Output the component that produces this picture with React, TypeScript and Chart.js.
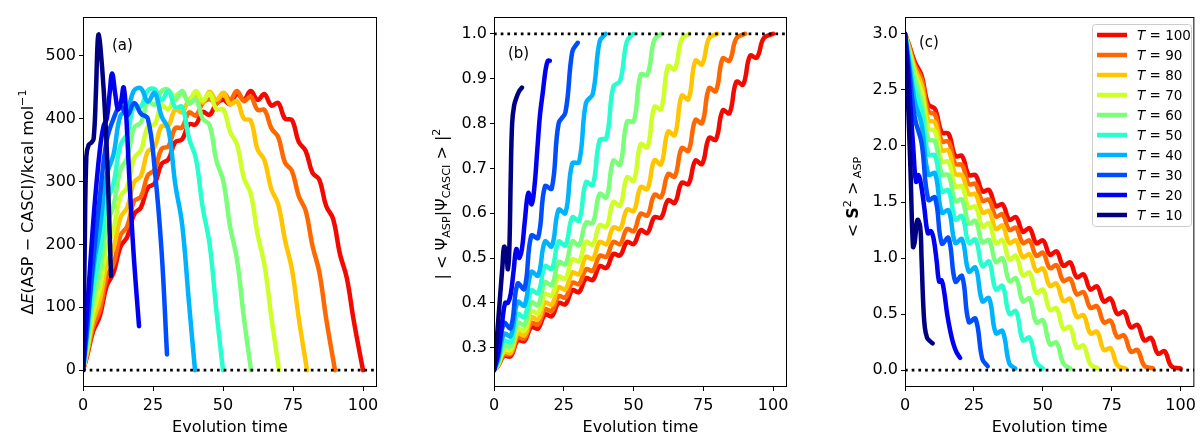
import React, { useEffect, useRef } from "react";
import { Chart, registerables } from "chart.js";

Chart.register(...registerables);

const FONT = "'DejaVu Sans', 'Liberation Sans', sans-serif";

const T_VALUES = [10, 20, 30, 40, 50, 60, 70, 80, 90, 100];
const JET_COLORS = ["#000080", "#0000f3", "#004cff", "#00b3ff", "#29ffce", "#7bff7b", "#ceff29", "#ffc600", "#ff6800", "#f30900"];

const X_TICKS = [0, 25, 50, 75, 100];
const A_Y_TICKS = [0, 100, 200, 300, 400, 500];
const B_Y_TICKS = [0.3, 0.4, 0.5, 0.6, 0.7, 0.8, 0.9, 1.0];
const C_Y_TICKS = [0, 0.5, 1.0, 1.5, 2.0, 2.5, 3.0];

// shared sampling times (wiggle extremes), curve T ends at t = T
const TIME_GRID = [0, 1.5, 3.55, 6.0, 8.45, 10.9, 13.35, 15.8, 18.25, 20.7, 23.15, 25.6, 28.05, 30.5, 32.95, 35.4, 37.85, 40.3, 42.75, 45.2, 47.65, 50.1, 52.55, 55.0, 57.45, 59.9, 62.35, 64.8, 67.25, 69.7, 72.15, 74.6, 77.05, 79.5, 81.95, 84.4, 86.85, 89.3, 91.75, 94.2, 96.65];

// ---------- panel (a): Delta E ----------
const A_T10_TIME = [0, 0.6, 1.2, 2, 3, 3.8, 4.6, 5.2, 5.6, 6.2, 7.4, 8.6, 10];
const A_T10 = [0, 190, 340, 358, 362, 368, 440, 520, 534, 515, 445, 340, 150];
const A_T20_TIME = [0, 2, 4, 6, 7.4, 8.5, 9.5, 10.4, 11.5, 12.5, 13.5, 14.5, 15.3, 16.5, 18, 20];
const A_T20 = [0, 130, 255, 350, 389, 400, 440, 472, 440, 415, 425, 450, 415, 310, 190, 70];
const A_T30 = [0, 70, 170, 275, 365, 400, 420, 405, 425, 408, 400, 320, 190, 25];
const A_T40 = [0, 64, 157, 225, 310, 343, 405, 413, 445, 448, 427, 441, 404, 383, 296, 232, 107, 0];
const A_T50 = [0, 51, 128, 184, 265, 297, 358, 376, 420, 419, 445, 447, 429, 444, 418, 419, 369, 337, 259, 201, 94, 0];
const A_T60 = [0, 43, 108, 157, 230, 262, 318, 338, 386, 394, 427, 422, 444, 446, 430, 444, 424, 431, 400, 390, 333, 301, 228, 176, 84, 0];
const A_T70 = [0, 35, 90, 130, 194, 224, 276, 291, 337, 350, 387, 391, 421, 415, 436, 440, 428, 444, 429, 440, 415, 415, 379, 359, 306, 281, 216, 168, 85, 0];
const A_T80 = [0, 30, 78, 111, 169, 194, 242, 259, 299, 309, 348, 355, 388, 389, 415, 410, 430, 435, 426, 443, 430, 441, 423, 428, 400, 397, 351, 334, 288, 264, 207, 161, 83, 0];
const A_T90 = [0, 26, 68, 95, 148, 169, 214, 229, 269, 276, 310, 319, 352, 356, 385, 386, 410, 405, 425, 431, 424, 441, 430, 444, 428, 435, 414, 414, 385, 371, 330, 317, 277, 254, 198, 156, 82, 0];
const A_T100 = [0, 23, 61, 86, 134, 155, 196, 212, 248, 259, 290, 297, 328, 335, 363, 367, 391, 391, 411, 406, 424, 430, 423, 440, 430, 444, 430, 439, 421, 425, 400, 398, 363, 349, 314, 303, 261, 241, 185, 147, 80, 0];

// ---------- panel (b): overlap ----------
const B_T10_TIME = [0, 1, 2, 3, 3.6, 4.3, 5.0, 5.5, 6.0, 6.5, 7.2, 8, 9, 10];
const B_T10 = [0.25, 0.32, 0.40, 0.48, 0.525, 0.515, 0.475, 0.52, 0.68, 0.80, 0.84, 0.857, 0.872, 0.88];
const B_T20_TIME = [0, 1.5, 3, 4, 5, 6, 7, 8, 9, 10, 11, 12.3, 13.5, 14.5, 15.5, 16.5, 17.5, 18.5, 19.3, 20];
const B_T20 = [0.25, 0.29, 0.36, 0.40, 0.40, 0.42, 0.47, 0.52, 0.50, 0.52, 0.58, 0.645, 0.62, 0.66, 0.74, 0.82, 0.87, 0.92, 0.94, 0.94];
const B_T30 = [0.25, 0.282, 0.355, 0.344, 0.443, 0.431, 0.55, 0.545, 0.66, 0.655, 0.80, 0.825, 0.96, 0.98];
const B_T40 = [0.25, 0.275, 0.331, 0.326, 0.402, 0.394, 0.469, 0.461, 0.537, 0.526, 0.608, 0.60, 0.711, 0.714, 0.846, 0.866, 0.983, 1.0];
const B_T50 = [0.25, 0.27, 0.315, 0.313, 0.375, 0.368, 0.428, 0.422, 0.482, 0.476, 0.537, 0.528, 0.591, 0.583, 0.669, 0.663, 0.763, 0.768, 0.882, 0.895, 0.984, 1.0];
const B_T60 = [0.25, 0.267, 0.303, 0.304, 0.356, 0.351, 0.401, 0.395, 0.446, 0.44, 0.491, 0.486, 0.537, 0.529, 0.579, 0.578, 0.643, 0.635, 0.717, 0.708, 0.804, 0.805, 0.909, 0.909, 0.987, 1.0];
const B_T70 = [0.25, 0.264, 0.295, 0.296, 0.342, 0.338, 0.382, 0.377, 0.42, 0.416, 0.459, 0.454, 0.497, 0.493, 0.536, 0.53, 0.573, 0.57, 0.625, 0.617, 0.68, 0.672, 0.754, 0.747, 0.837, 0.832, 0.928, 0.921, 0.988, 1.0];
const B_T80 = [0.25, 0.262, 0.29, 0.289, 0.332, 0.328, 0.368, 0.363, 0.401, 0.396, 0.435, 0.43, 0.468, 0.464, 0.503, 0.498, 0.536, 0.531, 0.568, 0.565, 0.608, 0.605, 0.658, 0.654, 0.718, 0.709, 0.782, 0.774, 0.862, 0.854, 0.94, 0.932, 0.99, 1.0];
const B_T90 = [0.25, 0.261, 0.285, 0.286, 0.323, 0.321, 0.355, 0.352, 0.386, 0.382, 0.415, 0.412, 0.445, 0.442, 0.475, 0.472, 0.505, 0.503, 0.536, 0.531, 0.565, 0.56, 0.599, 0.595, 0.641, 0.636, 0.687, 0.682, 0.745, 0.739, 0.808, 0.801, 0.879, 0.872, 0.945, 0.94, 0.99, 1.0];
const B_T100 = [0.25, 0.26, 0.282, 0.281, 0.316, 0.315, 0.346, 0.343, 0.374, 0.37, 0.40, 0.397, 0.428, 0.424, 0.455, 0.451, 0.482, 0.478, 0.509, 0.506, 0.536, 0.531, 0.562, 0.556, 0.591, 0.59, 0.629, 0.623, 0.668, 0.665, 0.717, 0.71, 0.768, 0.764, 0.829, 0.823, 0.893, 0.887, 0.951, 0.947, 0.99, 1.0];

// ---------- panel (c): <S^2> ----------
const C_T10_TIME = [0, 1, 2, 2.9, 3.5, 4.5, 5.5, 6.0, 6.6, 7.2, 8, 9, 10];
const C_T10 = [3.0, 2.45, 1.78, 1.1, 1.14, 1.34, 1.28, 1.0, 0.6, 0.38, 0.29, 0.26, 0.24];
const C_T20_TIME = [0, 1, 2, 3, 4, 4.9, 5.8, 7, 8.3, 9.4, 10.4, 11.5, 12.4, 13.3, 14.2, 15.3, 16.5, 17.5, 18.7, 20];
const C_T20 = [3.0, 2.72, 2.35, 1.98, 1.68, 1.74, 1.66, 1.45, 1.22, 1.24, 1.17, 0.97, 0.79, 0.80, 0.70, 0.50, 0.34, 0.24, 0.16, 0.11];
const C_T30 = [3.0, 2.68, 2.25, 2.03, 1.52, 1.54, 1.13, 1.18, 0.79, 0.84, 0.43, 0.46, 0.10, 0.035];
const C_T40 = [3.0, 2.74, 2.40, 2.195, 1.745, 1.755, 1.405, 1.425, 1.135, 1.168, 0.88, 0.915, 0.615, 0.643, 0.33, 0.349, 0.06, 0.015];
const C_T50 = [3.0, 2.79, 2.52, 2.315, 1.925, 1.915, 1.595, 1.605, 1.345, 1.375, 1.135, 1.165, 0.928, 0.968, 0.72, 0.752, 0.503, 0.526, 0.268, 0.29, 0.07, 0.015];
const C_T60 = [3.0, 2.82, 2.60, 2.39, 2.06, 2.04, 1.75, 1.74, 1.51, 1.52, 1.31, 1.33, 1.14, 1.16, 0.965, 0.997, 0.795, 0.819, 0.615, 0.639, 0.427, 0.443, 0.231, 0.247, 0.06, 0.015];
const C_T70 = [3.0, 2.85, 2.65, 2.48, 2.16, 2.13, 1.86, 1.86, 1.64, 1.64, 1.45, 1.46, 1.28, 1.31, 1.133, 1.16, 0.988, 1.02, 0.845, 0.87, 0.691, 0.716, 0.537, 0.555, 0.369, 0.387, 0.201, 0.219, 0.053, 0.015];
const C_T80 = [3.0, 2.87, 2.69, 2.545, 2.23, 2.21, 1.96, 1.96, 1.75, 1.74, 1.57, 1.57, 1.405, 1.42, 1.26, 1.29, 1.135, 1.157, 1.007, 1.034, 0.885, 0.906, 0.751, 0.772, 0.616, 0.637, 0.475, 0.49, 0.328, 0.343, 0.18, 0.196, 0.045, 0.015];
const C_T90 = [3.0, 2.89, 2.72, 2.60, 2.31, 2.28, 2.04, 2.04, 1.84, 1.83, 1.66, 1.66, 1.51, 1.52, 1.37, 1.39, 1.25, 1.27, 1.135, 1.156, 1.02, 1.047, 0.91, 0.936, 0.796, 0.816, 0.676, 0.696, 0.556, 0.571, 0.426, 0.44, 0.295, 0.31, 0.165, 0.179, 0.04, 0.015];
const C_T100 = [3.0, 2.90, 2.75, 2.63, 2.37, 2.33, 2.12, 2.11, 1.91, 1.91, 1.74, 1.74, 1.595, 1.607, 1.463, 1.48, 1.342, 1.364, 1.235, 1.266, 1.132, 1.158, 1.029, 1.06, 0.931, 0.962, 0.828, 0.854, 0.72, 0.747, 0.613, 0.639, 0.501, 0.522, 0.383, 0.404, 0.266, 0.287, 0.148, 0.169, 0.035, 0.015];

type Seg = { t: string; it?: boolean; b?: boolean; s?: number; dy?: number };
type Series = { times: number[]; values: number[] };
type Panel = {
  key: string;
  left: number;
  width: number;
  yAxisWidth: number;
  rightPad: number;
  yMin: number;
  yMax: number;
  yTicks: number[];
  yDecimals: number;
  dottedY: number;
  series: Series[];
  label: string;
  labelX: number;
  labelY: number;
  yTitle: Seg[];
  yTitleX: number;
  yTitleY: number;
  legend: boolean;
};

function onGrid(values: number[], T: number): Series {
  return { times: TIME_GRID.slice(0, values.length - 1).concat([T]), values };
}

const A_SERIES: Series[] = [
  { times: A_T10_TIME, values: A_T10 },
  { times: A_T20_TIME, values: A_T20 },
  onGrid(A_T30, 30), onGrid(A_T40, 40), onGrid(A_T50, 50), onGrid(A_T60, 60),
  onGrid(A_T70, 70), onGrid(A_T80, 80), onGrid(A_T90, 90), onGrid(A_T100, 100),
];
const B_SERIES: Series[] = [
  { times: B_T10_TIME, values: B_T10 },
  { times: B_T20_TIME, values: B_T20 },
  onGrid(B_T30, 30), onGrid(B_T40, 40), onGrid(B_T50, 50), onGrid(B_T60, 60),
  onGrid(B_T70, 70), onGrid(B_T80, 80), onGrid(B_T90, 90), onGrid(B_T100, 100),
];
const C_SERIES: Series[] = [
  { times: C_T10_TIME, values: C_T10 },
  { times: C_T20_TIME, values: C_T20 },
  onGrid(C_T30, 30), onGrid(C_T40, 40), onGrid(C_T50, 50), onGrid(C_T60, 60),
  onGrid(C_T70, 70), onGrid(C_T80, 80), onGrid(C_T90, 90), onGrid(C_T100, 100),
];

const PANELS: Panel[] = [
  {
    key: "a", left: 0, width: 400, yAxisWidth: 83, rightPad: 23,
    yMin: -26.75, yMax: 561.75, yTicks: A_Y_TICKS, yDecimals: 0, dottedY: 0,
    series: A_SERIES, label: "(a)", labelX: 112, labelY: 45,
    yTitle: [{ t: "Δ" }, { t: "E", it: true }, { t: "(ASP − CASCI)/kcal mol" }, { t: "−1", s: 0.7, dy: -0.42 }],
    yTitleX: 27, yTitleY: 202, legend: false,
  },
  {
    key: "b", left: 400, width: 400, yAxisWidth: 94, rightPad: 13,
    yMin: 0.2125, yMax: 1.0375, yTicks: B_Y_TICKS, yDecimals: 1, dottedY: 1.0,
    series: B_SERIES, label: "(b)", labelX: 108, labelY: 53,
    yTitle: [{ t: "| < Ψ" }, { t: "ASP", s: 0.7, dy: 0.22 }, { t: "|Ψ" }, { t: "CASCI", s: 0.7, dy: 0.22 }, { t: " > |" }, { t: "2", s: 0.7, dy: -0.42 }],
    yTitleX: 41, yTitleY: 204, legend: false,
  },
  {
    key: "c", left: 800, width: 401, yAxisWidth: 105, rightPad: 3,
    yMin: -0.15, yMax: 3.15, yTicks: C_Y_TICKS, yDecimals: 1, dottedY: 0,
    series: C_SERIES, label: "(c)", labelX: 119, labelY: 42,
    yTitle: [{ t: "< " }, { t: "S", b: true }, { t: "2", s: 0.7, dy: -0.42 }, { t: " >" }, { t: " ASP", s: 0.7, dy: 0.22 }],
    yTitleX: 52, yTitleY: 197, legend: true,
  },
];

function fontFor(seg: Seg, size: number) {
  const sz = size * (seg.s ?? 1);
  return `${seg.it ? "italic " : ""}${seg.b ? "bold " : ""}${sz}px ${FONT}`;
}

function drawRich(ctx: CanvasRenderingContext2D, segs: Seg[], x: number, y: number, size: number, rotate: boolean, center: boolean) {
  ctx.save();
  ctx.translate(x, y);
  if (rotate) ctx.rotate(-Math.PI / 2);
  ctx.fillStyle = "#000";
  ctx.textBaseline = "alphabetic";
  ctx.textAlign = "left";
  const widths = segs.map((seg) => {
    ctx.font = fontFor(seg, size);
    return ctx.measureText(seg.t).width;
  });
  const total = widths.reduce((a, b) => a + b, 0);
  let cx = center ? -total / 2 : 0;
  const base = size * 0.36;
  segs.forEach((seg, i) => {
    ctx.font = fontFor(seg, size);
    ctx.fillText(seg.t, cx, base + (seg.dy ?? 0) * size);
    cx += widths[i];
  });
  ctx.restore();
}

function decorPlugin(panel: Panel) {
  return {
    id: "decor-" + panel.key,
    afterDraw(chart: any) {
      const ctx: CanvasRenderingContext2D = chart.ctx;
      const ca = chart.chartArea;
      ctx.save();
      ctx.strokeStyle = "#000";
      ctx.lineWidth = 1;
      ctx.strokeRect(ca.left + 0.5, ca.top + 0.5, ca.right - ca.left - 1, ca.bottom - ca.top - 1);
      drawRich(ctx, [{ t: panel.label }], panel.labelX, panel.labelY, 15, false, false);
      drawRich(ctx, panel.yTitle, panel.yTitleX, panel.yTitleY, 16, true, true);
      if (panel.legend) {
        const bx = 292.5, by = 24.5, bw = 99, bh = 202, r = 3;
        ctx.beginPath();
        ctx.moveTo(bx + r, by);
        ctx.lineTo(bx + bw - r, by);
        ctx.quadraticCurveTo(bx + bw, by, bx + bw, by + r);
        ctx.lineTo(bx + bw, by + bh - r);
        ctx.quadraticCurveTo(bx + bw, by + bh, bx + bw - r, by + bh);
        ctx.lineTo(bx + r, by + bh);
        ctx.quadraticCurveTo(bx, by + bh, bx, by + bh - r);
        ctx.lineTo(bx, by + r);
        ctx.quadraticCurveTo(bx, by, bx + r, by);
        ctx.closePath();
        ctx.fillStyle = "rgba(255,255,255,0.8)";
        ctx.fill();
        ctx.strokeStyle = "#cccccc";
        ctx.lineWidth = 1;
        ctx.stroke();
        for (let i = 0; i < T_VALUES.length; i++) {
          const idx = T_VALUES.length - 1 - i;
          const yy = 35 + 20 * i;
          ctx.strokeStyle = JET_COLORS[idx];
          ctx.lineWidth = 4.5;
          ctx.lineCap = "butt";
          ctx.beginPath();
          ctx.moveTo(297, yy);
          ctx.lineTo(327, yy);
          ctx.stroke();
          drawRich(ctx, [{ t: "T", it: true }, { t: " = " + T_VALUES[idx] }], 337, yy, 13.5, false, false);
        }
      }
      ctx.restore();
    },
  };
}

function buildConfig(panel: Panel): any {
  const datasets: any[] = [
    {
      label: "reference",
      data: [{ x: 0, y: panel.dottedY }, { x: 105, y: panel.dottedY }],
      borderColor: "#000",
      borderWidth: 2.7,
      borderDash: [2.7, 4],
      borderCapStyle: "butt",
      pointRadius: 0,
      tension: 0,
      clip: 0,
    },
  ];
  panel.series.forEach((s, i) => {
    datasets.push({
      label: "T = " + T_VALUES[i],
      data: s.times.map((t, j) => ({ x: t, y: s.values[j] })),
      borderColor: JET_COLORS[i],
      backgroundColor: JET_COLORS[i],
      borderWidth: 4.5,
      pointRadius: 0,
      tension: 0.4,
      borderJoinStyle: "round",
      borderCapStyle: "round",
      clip: 0,
    });
  });
  const tickFont = { family: FONT, size: 16 };
  return {
    type: "line",
    data: { datasets },
    plugins: [decorPlugin(panel)],
    options: {
      responsive: false,
      animation: false,
      devicePixelRatio: 1,
      layout: { padding: { top: 17, right: panel.rightPad, bottom: 0, left: 0 } },
      plugins: { legend: { display: false }, tooltip: { enabled: false } },
      scales: {
        x: {
          type: "linear",
          min: 0,
          max: 105,
          afterBuildTicks: (scale: any) => {
            scale.ticks = X_TICKS.map((v) => ({ value: v }));
          },
          afterFit: (scale: any) => {
            scale.height = 50;
          },
          grid: { display: true, drawOnChartArea: false, drawTicks: true, tickLength: 4, color: "#000", lineWidth: 1 },
          border: { display: false },
          ticks: { font: tickFont, color: "#000", padding: 5, maxRotation: 0, autoSkip: false, callback: (v: number) => String(v) },
          title: { display: true, text: "Evolution time", color: "#000", font: { family: FONT, size: 16 }, padding: { top: 0, bottom: 0 } },
        },
        y: {
          type: "linear",
          min: panel.yMin,
          max: panel.yMax,
          afterBuildTicks: (scale: any) => {
            scale.ticks = panel.yTicks.map((v) => ({ value: v }));
          },
          afterFit: (scale: any) => {
            scale.width = panel.yAxisWidth;
          },
          grid: { display: true, drawOnChartArea: false, drawTicks: true, tickLength: 4, color: "#000", lineWidth: 1 },
          border: { display: false },
          ticks: { font: tickFont, color: "#000", padding: 3, autoSkip: false, callback: (v: number) => Number(v).toFixed(panel.yDecimals) },
        },
      },
    },
  };
}

function PanelChart({ panel }: { panel: Panel }) {
  const ref = useRef<HTMLCanvasElement>(null);
  useEffect(() => {
    if (!ref.current) return;
    const chart = new Chart(ref.current, buildConfig(panel));
    return () => chart.destroy();
  }, [panel]);
  return (
    <canvas
      ref={ref}
      width={panel.width}
      height={437}
      style={{ position: "absolute", left: panel.left, top: 0, width: panel.width, height: 437 }}
    />
  );
}

export default function App() {
  return (
    <div style={{ position: "absolute", left: 0, top: 0, width: 1201, height: 437, background: "#fff", overflow: "hidden" }}>
      {PANELS.map((p) => (
        <PanelChart key={p.key} panel={p} />
      ))}
    </div>
  );
}
